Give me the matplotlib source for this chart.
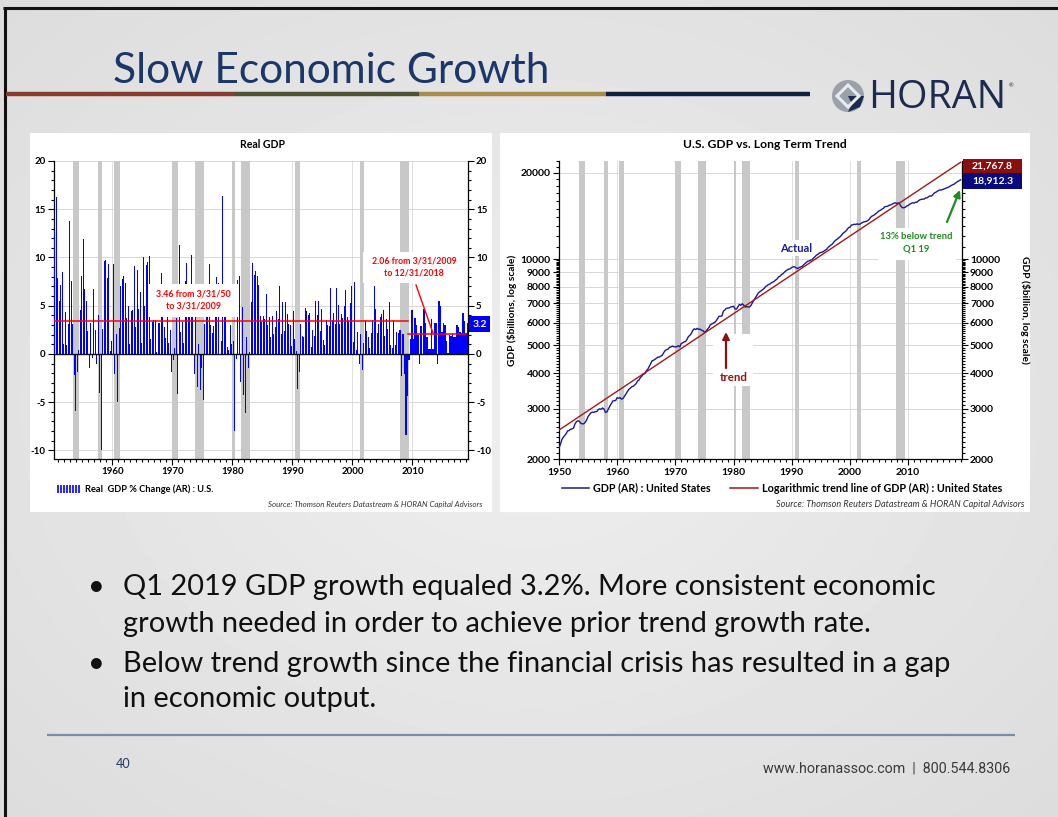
import numpy as np
import matplotlib
matplotlib.use('Agg')
import matplotlib.pyplot as plt
from matplotlib.patches import Rectangle, Circle, Polygon
import matplotlib.ticker as mticker

plt.rcParams['font.family'] = ['Lato', 'DejaVu Sans']
plt.rcParams['axes.linewidth'] = 0.9

# ---------------- data ----------------
# Real GDP % change (annualised), quarterly 1950Q1 .. 2019Q1
gdp_growth = [
    16.9, 12.7, 16.3, 7.9,    # 1950
    5.5, 7.1, 8.5, 1.0,       # 1951
    4.3, 0.9, 3.1, 13.8,      # 1952
    7.6, 3.1, -2.2, -5.9,     # 1953
    -1.9, 0.4, 4.6, 8.1,      # 1954
    11.9, 6.7, 5.5, 2.4,      # 1955
    -1.5, 3.2, -0.4, 6.7,     # 1956
    2.5, -1.0, 4.0, -4.1,     # 1957
    -10.0, 2.6, 9.6, 9.7,     # 1958
    7.9, 9.3, 0.3, 1.3,       # 1959
    9.3, -2.1, 2.1, -5.0,     # 1960
    2.7, 7.0, 7.8, 8.1,       # 1961
    7.3, 3.7, 5.0, 1.0,       # 1962
    4.4, 4.6, 9.1, 2.8,       # 1963
    8.7, 4.7, 6.4, 1.1,       # 1964
    10.0, 5.0, 9.2, 9.5,      # 1965
    10.1, 1.5, 3.3, 3.5,      # 1966
    3.5, 0.2, 3.2, 3.2,       # 1967
    8.4, 7.0, 2.8, 1.6,       # 1968
    6.3, 1.1, 2.5, -1.9,      # 1969
    -0.6, 0.6, 3.7, -4.2,     # 1970
    11.3, 2.3, 3.3, 1.1,      # 1971
    7.6, 9.4, 3.8, 6.8,       # 1972
    10.3, 4.5, -2.1, 3.9,     # 1973
    -3.4, 1.0, -3.7, -1.5,    # 1974
    -4.8, 3.1, 6.8, 5.5,      # 1975
    9.3, 3.0, 2.2, 2.9,       # 1976
    4.8, 8.0, 7.4, 0.0,       # 1977
    1.3, 16.4, 4.0, 5.4,      # 1978
    0.7, 0.4, 3.0, 1.0,       # 1979
    1.3, -8.0, -0.5, 7.7,     # 1980
    8.1, -2.9, 4.9, -4.3,     # 1981
    -6.1, 1.8, -1.5, 0.2,     # 1982
    5.4, 9.4, 8.2, 8.6,       # 1983
    8.1, 7.1, 3.9, 3.3,       # 1984
    3.9, 3.6, 6.2, 3.0,       # 1985
    3.8, 1.8, 3.9, 2.1,       # 1986
    2.8, 4.4, 3.6, 7.0,       # 1987
    2.1, 5.4, 2.4, 5.4,       # 1988
    4.1, 3.1, 3.0, 0.8,       # 1989
    4.4, 1.5, 0.3, -3.6,      # 1990
    -1.9, 3.1, 1.9, 1.8,      # 1991
    4.8, 4.4, 4.0, 4.2,       # 1992
    0.7, 2.5, 1.9, 5.5,       # 1993
    4.0, 5.5, 2.4, 4.7,       # 1994
    1.4, 0.9, 3.5, 3.0,       # 1995
    2.9, 6.8, 3.5, 4.2,       # 1996
    3.1, 6.8, 5.1, 3.1,       # 1997
    4.1, 3.7, 5.0, 6.6,       # 1998
    3.8, 3.4, 5.3, 7.0,       # 1999
    1.2, 7.5, 0.4, 2.3,       # 2000
    -1.1, 2.1, -1.7, 1.1,     # 2001
    3.5, 2.4, 1.8, 0.6,       # 2002
    2.2, 3.5, 7.0, 4.7,       # 2003
    2.2, 3.1, 3.8, 4.1,       # 2004
    4.5, 1.9, 3.6, 2.6,       # 2005
    5.4, 0.9, 0.6, 3.5,       # 2006
    0.9, 2.3, 2.2, 2.5,       # 2007
    -2.3, 2.1, -2.1, -8.4,    # 2008
    -4.4, -0.6, 1.5, 4.5,     # 2009
    1.5, 3.7, 3.0, 2.0,       # 2010
    -1.0, 2.9, -0.1, 4.7,     # 2011
    3.2, 1.7, 0.5, 0.5,       # 2012
    3.6, 0.5, 3.2, 3.2,       # 2013
    -1.1, 5.5, 5.0, 2.3,      # 2014
    3.2, 3.0, 1.3, 0.1,       # 2015
    2.0, 1.9, 2.2, 1.8,       # 2016
    1.8, 3.0, 2.8, 2.3,       # 2017
    2.2, 4.2, 3.4, 2.2,       # 2018
    3.2,                      # 2019
]

# Real GDP level ($ billions, chained), quarterly 1950Q1 .. 2019Q1
gdp_level = [
    2192, 2258, 2345, 2390,        # 1950
    2422, 2464, 2515, 2521,        # 1951
    2548, 2553, 2573, 2658,        # 1952
    2707, 2727, 2712, 2671,        # 1953
    2659, 2661, 2691, 2744,        # 1954
    2822, 2869, 2907, 2925,        # 1955
    2914, 2937, 2934, 2982,        # 1956
    3000, 2992, 3022, 2991,        # 1957
    2913, 2932, 2999, 3070,        # 1958
    3129, 3199, 3201, 3212,        # 1959
    3284, 3267, 3284, 3242,        # 1960
    3263, 3319, 3382, 3448,        # 1961
    3510, 3542, 3585, 3594,        # 1962
    3633, 3674, 3755, 3781,        # 1963
    3861, 3905, 3966, 3977,        # 1964
    4073, 4123, 4215, 4312,        # 1965
    4416, 4433, 4469, 4508,        # 1966
    4547, 4549, 4585, 4621,        # 1967
    4715, 4796, 4829, 4848,        # 1968
    4923, 4936, 4967, 4943,        # 1969
    4936, 4943, 4988, 4935,        # 1970
    5069, 5098, 5139, 5153,        # 1971
    5248, 5368, 5418, 5508,        # 1972
    5644, 5707, 5677, 5731,        # 1973
    5682, 5696, 5643, 5621,        # 1974
    5553, 5595, 5688, 5765,        # 1975
    5894, 5938, 5970, 6013,        # 1976
    6084, 6202, 6314, 6314,        # 1977
    6334, 6579, 6644, 6732,        # 1978
    6744, 6751, 6801, 6818,        # 1979
    6840, 6699, 6690, 6815,        # 1980
    6949, 6899, 6982, 6905,        # 1981
    6797, 6828, 6802, 6805,        # 1982
    6896, 7052, 7192, 7342,        # 1983
    7487, 7616, 7689, 7752,        # 1984
    7827, 7896, 8016, 8075,        # 1985
    8151, 8187, 8266, 8309,        # 1986
    8367, 8457, 8532, 8678,        # 1987
    8723, 8838, 8891, 9009,        # 1988
    9100, 9169, 9237, 9256,        # 1989
    9356, 9391, 9398, 9312,        # 1990
    9268, 9339, 9383, 9425,        # 1991
    9536, 9639, 9734, 9834,        # 1992
    9852, 9913, 9959, 10094,       # 1993
    10193, 10330, 10392, 10512,    # 1994
    10548, 10572, 10663, 10743,    # 1995
    10820, 10999, 11094, 11209,    # 1996
    11295, 11482, 11626, 11715,    # 1997
    11833, 11941, 12087, 12282,    # 1998
    12397, 12501, 12664, 12880,    # 1999
    12918, 13154, 13167, 13242,    # 2000
    13205, 13274, 13217, 13254,    # 2001
    13368, 13448, 13508, 13528,    # 2002
    13602, 13719, 13953, 14114,    # 2003
    14191, 14300, 14434, 14580,    # 2004
    14741, 14811, 14942, 15038,    # 2005
    15237, 15272, 15294, 15427,    # 2006
    15461, 15549, 15634, 15731,    # 2007
    15640, 15721, 15638, 15299,    # 2008
    15128, 15105, 15161, 15329,    # 2009
    15386, 15526, 15642, 15719,    # 2010
    15680, 15792, 15788, 15971,    # 2011
    16097, 16165, 16185, 16205,    # 2012
    16349, 16370, 16499, 16629,    # 2013
    16583, 16807, 17013, 17110,    # 2014
    17245, 17373, 17430, 17434,    # 2015
    17520, 17603, 17699, 17778,    # 2016
    17858, 17990, 18115, 18218,    # 2017
    18317, 18507, 18662, 18764,    # 2018
    18912.3,                       # 2019
]
first_year = 1950

recession_start = [1953.5, 1957.65, 1960.3, 1969.95, 1973.85, 1980.0, 1981.5, 1990.5, 2001.2, 2007.95]
recession_end = [1954.4, 1958.35, 1961.2, 1970.9, 1975.2, 1980.5, 1982.9, 1991.2, 2001.9, 2009.5]

avg_early = 3.46     # 3/31/1950 - 3/31/2009
avg_late = 2.06      # 3/31/2009 - 12/31/2018
split_year = 2009.25
late_end_year = 2018.85
latest_growth = 3.2

trend_years = [1950.0, 2019.0]
trend_level = [2530.0, 21767.8]
actual_latest = 18912.3

growth_yticks = [-10, -5, 0, 5, 10, 15, 20]
level_yticks = [2000, 3000, 4000, 5000, 6000, 7000, 8000, 9000, 10000, 20000]
left_xticks = [1960, 1970, 1980, 1990, 2000, 2010]
right_xticks = [1950, 1960, 1970, 1980, 1990, 2000, 2010]

# ---------------- figure ----------------
W, H = 1058, 817
fig = plt.figure(figsize=(W / 100, H / 100), dpi=100)
renderer = fig.canvas.get_renderer()


def prect(x0, y0, x1, y1):
    return [x0 / W, 1 - y1 / H, (x1 - x0) / W, (y1 - y0) / H]


def fit(t, target, vertical=False):
    bb = t.get_window_extent(renderer)
    cur = bb.height if vertical else bb.width
    t.set_fontsize(t.get_fontsize() * target / cur)
    return t


bg = fig.add_axes([0, 0, 1, 1], zorder=0)
yy, xx = np.mgrid[0:H:4, 0:W:4]
r = np.hypot((xx - W * 0.5) / W, (yy - H * 0.5) / H)
bg.imshow(0.935 - 0.1 * r, cmap='gray', vmin=0, vmax=1, extent=[0, W, H, 0],
          aspect='auto', interpolation='bilinear')
bg.set_xlim(0, W); bg.set_ylim(H, 0); bg.axis('off')

ov = fig.add_axes([0, 0, 1, 1], zorder=10)
ov.set_xlim(0, W); ov.set_ylim(H, 0); ov.axis('off')

# slide frame
bg.plot([3, W], [8, 8], color='#111111', lw=2.2, solid_capstyle='butt')
bg.plot([5, 5], [7, H], color='#111111', lw=2.2, solid_capstyle='butt')

# title + colour rule
t = bg.text(113, 83, 'Slow Economic Growth', fontsize=28, color='#1b3769', ha='left', va='baseline')
fit(t, 438)
for (x0, x1, c) in [(6, 234, '#8a3b2f'), (234, 419, '#4f5233'), (419, 606, '#a78c4a'), (606, 810, '#0d2241')]:
    bg.plot([x0, x1], [94, 94], color=c, lw=3.2, solid_capstyle='butt')

# logo
bg.add_patch(Circle((848, 96), 16, fc='#9aa1aa', ec='none'))
bg.add_patch(Polygon([(848, 96), (864, 96), (860, 107), (848, 112), (852, 104)], closed=True, fc='#1d2b4f', ec='none'))
bg.add_patch(Polygon([(848, 85), (859, 96), (848, 107), (837, 96)], closed=True, fc='none', ec='#e9ecef', lw=2.2))
t = bg.text(868, 108, 'HORAN', fontsize=22, color='#1d2b4f', ha='left', va='baseline', family=['Open Sans', 'DejaVu Sans'])
fit(t, 138)
bg.text(1009, 86, '®', fontsize=4, color='#1d2b4f', ha='left', va='center')

# chart panels
bg.add_patch(Rectangle((30, 133), 462, 379, fc='white', ec='none'))
bg.add_patch(Rectangle((500, 133), 530, 379, fc='white', ec='none'))

# ---------------- left chart ----------------
ax1 = fig.add_axes(prect(54, 161, 467.7, 459), zorder=2)
ax1.patch.set_alpha(0)
xq = first_year + np.arange(len(gdp_growth)) * 0.25 + 0.15
for s, e in zip(recession_start, recession_end):
    ax1.axvspan(s, e, color='#c8c8c8', lw=0, zorder=1)
for d in left_xticks:
    ax1.axvline(d, color='#dadada', lw=0.6, zorder=0.9)
for yv in growth_yticks:
    if yv != 0:
        ax1.axhline(yv, color='#d2d2d2', lw=0.6, zorder=0.9)
ax1.bar(xq, gdp_growth, width=0.21, color='#0000ff', lw=0, zorder=3)
ax1.axhline(0, color='#111111', lw=1.0, zorder=4)
ax1.plot([1950.28, split_year], [avg_early, avg_early], color='#ff0000', lw=1.1, zorder=5)
ax1.plot([split_year, late_end_year], [avg_late, avg_late], color='#ff0000', lw=1.1, zorder=5)
ax1.set_xlim(1950.28, 2019.2)
ax1.set_ylim(-10.9, 20)
ax1.spines['top'].set_visible(False)
ax1.set_yticks(growth_yticks, labels=[str(v) for v in growth_yticks], fontweight='bold', fontsize=7)
ax1.set_xticks(left_xticks, labels=[str(v) for v in left_xticks], fontweight='bold', fontsize=7)
ax1.xaxis.set_minor_locator(mticker.MultipleLocator(1))
ax1.yaxis.set_minor_locator(mticker.MultipleLocator(1))
ax1.tick_params(which='both', direction='out', width=0.8, pad=2)
ax1.tick_params(which='major', length=4)
ax1.tick_params(which='minor', length=2)
ax1.tick_params(axis='y', which='both', right=True, labelright=True)

# ---------------- right chart ----------------
ax2 = fig.add_axes(prect(559, 161, 961.7, 459.3), zorder=2)
ax2.patch.set_alpha(0)
ax2.set_yscale('log')
ax2.set_xlim(1950, 2019.2)
ax2.set_ylim(2000, 22000)
for s, e in zip(recession_start, recession_end):
    ax2.axvspan(s, e, color='#c8c8c8', lw=0, zorder=1)
for d in right_xticks[1:]:
    ax2.axvline(d, color='#dadada', lw=0.6, zorder=0.9)
for yv in level_yticks[1:]:
    ax2.axhline(yv, color='#d2d2d2', lw=0.6, zorder=0.9)
tq = first_year + np.arange(len(gdp_level)) * 0.25
ax2.plot(tq, gdp_level, color='#1a1a96', lw=1.0, zorder=4)
ax2.plot(trend_years, trend_level, color='#a31818', lw=1.0, zorder=4)
ax2.spines['top'].set_visible(False)
ax2.set_yticks(level_yticks, labels=[str(v) for v in level_yticks], fontweight='bold', fontsize=7.5)
ax2.yaxis.set_minor_locator(mticker.FixedLocator(list(range(2000, 10000, 100)) + list(range(10000, 22001, 1000))))
ax2.yaxis.set_minor_formatter(mticker.NullFormatter())
ax2.set_xticks(right_xticks, labels=[str(v) for v in right_xticks], fontweight='bold', fontsize=7.5)
ax2.xaxis.set_minor_locator(mticker.MultipleLocator(1))
ax2.tick_params(which='both', direction='out', width=0.8, pad=2)
ax2.tick_params(which='major', length=4)
ax2.tick_params(which='minor', length=2)
ax2.tick_params(axis='y', which='both', right=True, labelright=True)

# ---------------- overlay texts ----------------
fit(ov.text(262, 144, 'Real GDP', fontweight='bold', fontsize=7.5, ha='center', va='center'), 45)
fit(ov.text(765, 144, 'U.S. GDP vs. Long Term Trend', fontweight='bold', fontsize=7.5, ha='center', va='center'), 163)

# left annotations
ov.add_patch(Rectangle((148, 284), 90, 33, fc='white', ec='none'))
fit(ov.text(193, 300, f'{avg_early:.2f} from 3/31/50\nto 3/31/2009', color='#ff0000', fontweight='bold',
            fontsize=7, ha='center', va='center', linespacing=1.5), 75)
ov.add_patch(Rectangle((363, 252), 103, 31, fc='white', ec='none'))
fit(ov.text(414, 267, f'{avg_late:.2f} from 3/31/2009\nto 12/31/2018', color='#ff0000', fontweight='bold',
            fontsize=7, ha='center', va='center', linespacing=1.5), 84)
ov.plot([416, 433], [285, 333], color='#ff0000', lw=1.0)
ov.add_patch(Rectangle((469, 316), 21, 16, fc='#0000ff', ec='none'))
ov.text(479.5, 324, f'{latest_growth:.1f}', color='white', fontweight='bold', fontsize=7.5, ha='center', va='center')

# left legend + source
for i in range(8):
    ov.add_patch(Rectangle((57 + i * 3, 485), 2, 8, fc='#2a2aff', ec='none'))
fit(ov.text(85, 489, 'Real  GDP % Change (AR) : U.S.', fontweight='bold', fontsize=7, ha='left', va='center'), 129)
fit(ov.text(482, 504, 'Source: Thomson Reuters Datastream & HORAN Capital Advisors', style='italic',
            fontsize=5.5, color='#333333', ha='right', va='center'), 213)

# right annotations
ov.add_patch(Rectangle((963, 159), 59, 14, fc='#8b0f0f', ec='none'))
ov.text(992.5, 166, f'{trend_level[-1]:,.1f}', color='white', fontweight='bold', fontsize=7.5, ha='center', va='center')
ov.add_patch(Rectangle((963, 173), 59, 16, fc='#0a0a80', ec='none'))
ov.text(992.5, 181, f'{actual_latest:,.1f}', color='white', fontweight='bold', fontsize=7.5, ha='center', va='center')

fit(ov.text(796, 248, 'Actual', color='#1a1a96', fontweight='bold', fontsize=7.5, ha='center', va='center',
            bbox=dict(fc='white', ec='none', pad=1.5)), 32)
ov.add_patch(Rectangle((878, 228), 78, 32, fc='white', ec='none'))
fit(ov.text(916, 243, '13% below trend\nQ1 19', color='#1e8c1e', fontweight='bold', fontsize=7,
            ha='center', va='center', linespacing=1.5), 73)
ov.annotate('', xy=(960, 190), xytext=(947, 222),
            arrowprops=dict(arrowstyle='-|>', color='#1e8c1e', lw=1.6, mutation_scale=10, shrinkA=0, shrinkB=0))
ov.add_patch(Rectangle((713, 334), 40, 52, fc='white', ec='none'))
fit(ov.text(734, 377, 'trend', color='#9b1010', fontweight='bold', fontsize=7, ha='center', va='center'), 28)
ov.annotate('', xy=(726, 332), xytext=(726, 368),
            arrowprops=dict(arrowstyle='-|>', color='#8b0f0f', lw=1.6, mutation_scale=10, shrinkA=0, shrinkB=0))

fit(ov.text(512, 310, 'GDP ($billions, log scale)', fontweight='bold', fontsize=7, rotation=90,
            ha='center', va='center'), 112, vertical=True)
fit(ov.text(1025, 310, 'GDP ($billion, log scale)', fontweight='bold', fontsize=7, rotation=270,
            ha='center', va='center'), 108, vertical=True)

ov.plot([562, 589], [488, 488], color='#1a1a96', lw=1.1)
fit(ov.text(593, 488, 'GDP (AR) : United States', fontweight='bold', fontsize=7, ha='left', va='center'), 118)
ov.plot([730, 758], [488, 488], color='#a31818', lw=1.1)
fit(ov.text(762, 488, 'Logarithmic trend line of GDP (AR) : United States', fontweight='bold', fontsize=7,
            ha='left', va='center'), 241)
fit(ov.text(1025, 504, 'Source: Thomson Reuters Datastream & HORAN Capital Advisors', style='italic',
            fontsize=5.5, color='#333333', ha='right', va='center'), 246)

# ---------------- bullets ----------------
bullet_lines = ['Q1 2019 GDP growth equaled 3.2%. More consistent economic',
                'growth needed in order to achieve prior trend growth rate.',
                'Below trend growth since the financial crisis has resulted in a gap',
                'in economic output.']
baselines = [595, 632, 672, 707]
t0 = bg.text(123, baselines[0], bullet_lines[0], fontsize=20, color='#111111', ha='left', va='baseline')
fit(t0, 814)
fs = t0.get_fontsize()
for s, yb in zip(bullet_lines[1:], baselines[1:]):
    bg.text(123, yb, s, fontsize=fs, color='#111111', ha='left', va='baseline')
for yb in (baselines[0], baselines[2]):
    bg.text(96, yb, '•', fontsize=fs, color='#111111', ha='center', va='baseline')

# ---------------- footer ----------------
bg.plot([47, 1015], [735, 735], color='#7b8ca4', lw=1.6, solid_capstyle='butt')
bg.text(123, 764, '40', fontsize=9, color='#1f3864', ha='center', va='center')
fit(bg.text(1010, 768, 'www.horanassoc.com  |  800.544.8306', fontsize=10, color='#3a3a3a', ha='right',
            va='center', family=['Roboto', 'DejaVu Sans']), 247)

fig.savefig('out.png', dpi=100)
